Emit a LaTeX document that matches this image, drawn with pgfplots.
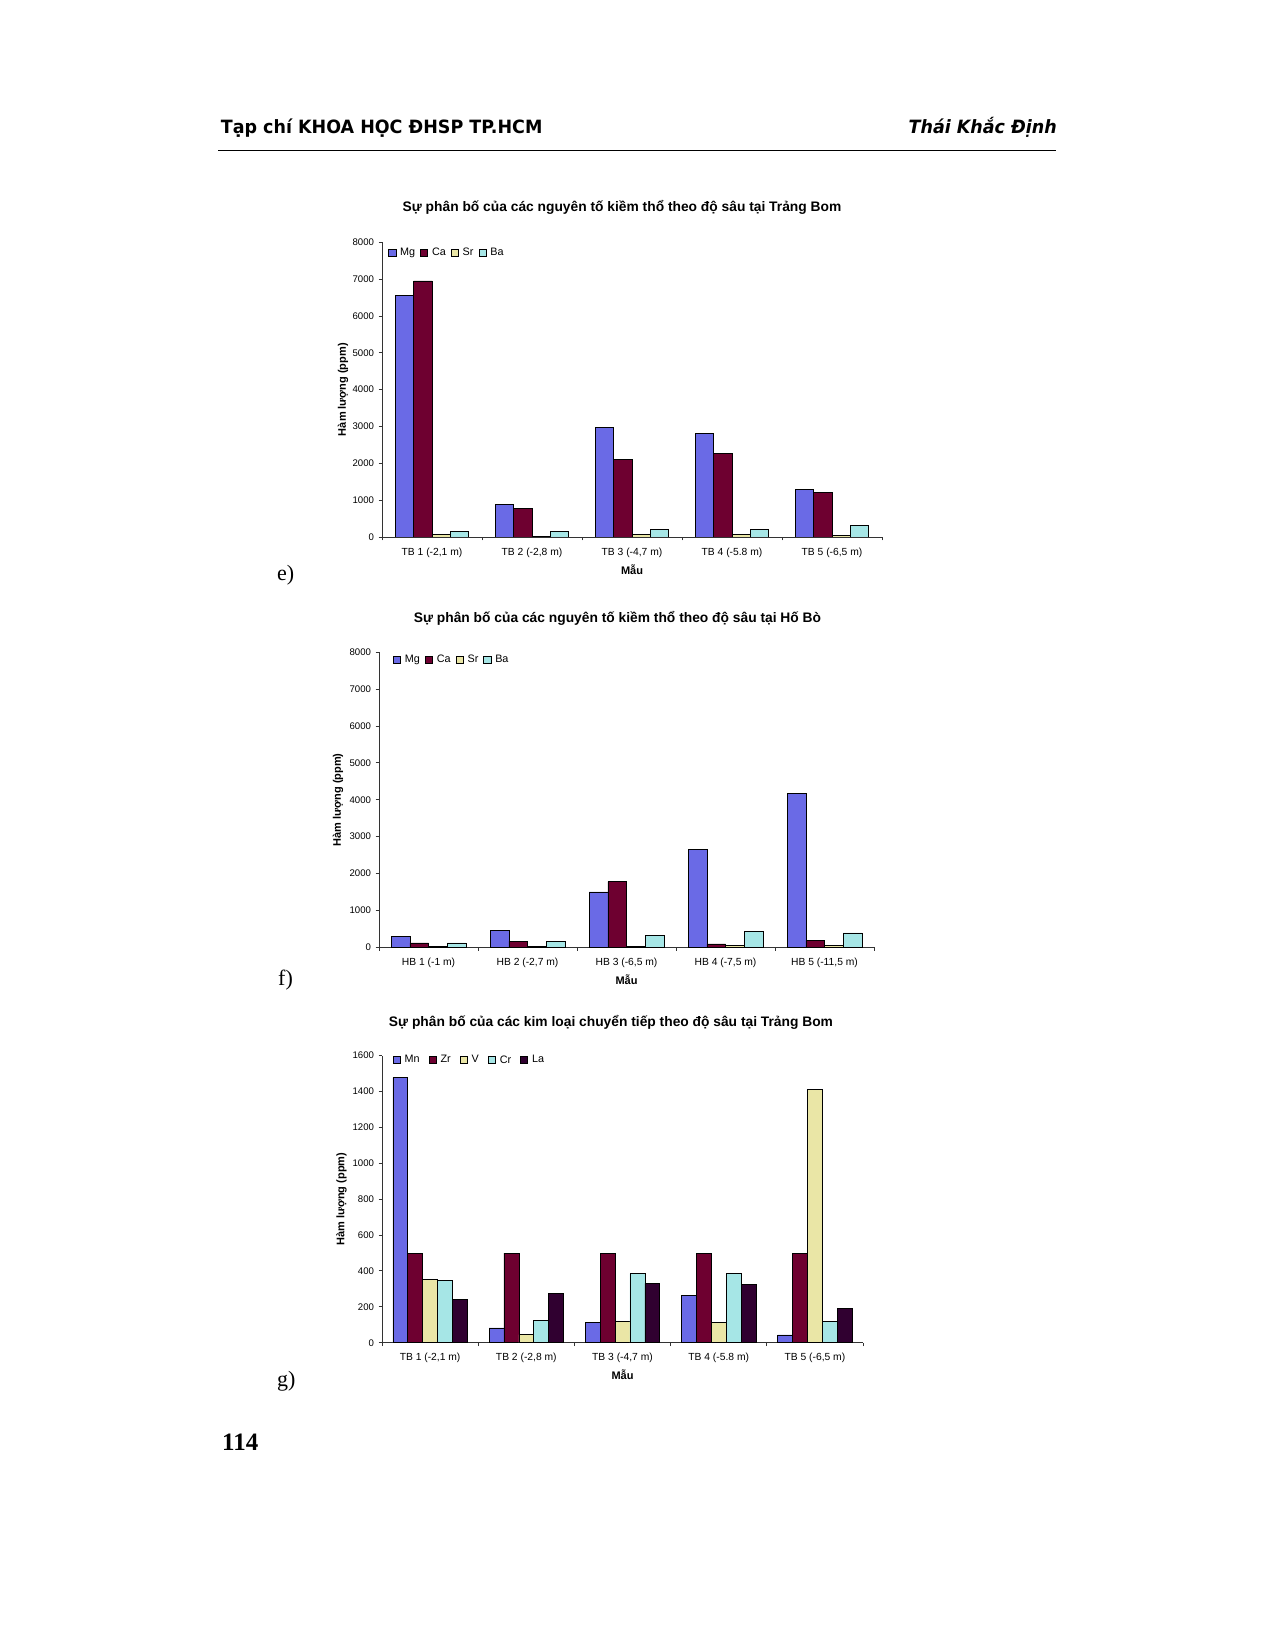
\documentclass[border=0pt]{standalone}
\usepackage{fontspec}
\setmainfont{Liberation Sans}
\newfontfamily\hdrfont[FakeStretch=0.955]{DejaVu Sans}
\newfontfamily\seriffont{Liberation Serif}
\usepackage{pgfplots}
\usepackage{pgfplotstable}
\pgfplotsset{compat=1.18}

\definecolor{cMg}{RGB}{106,106,230}
\definecolor{cCa}{RGB}{110,0,48}
\definecolor{cSr}{RGB}{234,230,166}
\definecolor{cBa}{RGB}{166,230,230}
\definecolor{cLa}{RGB}{48,0,48}

\pgfplotstableread{
x Mg Ca Sr Ba
0 6560 6950 60 150
1 880 770 20 150
2 2980 2110 60 200
3 2810 2265 60 210
4 1295 1214 45 317
}\dataE

\pgfplotstableread{
x Mg Ca Sr Ba
0 305 120 30 120
1 460 170 30 150
2 1500 1780 30 325
3 2658 90 55 425
4 4177 190 55 389
}\dataF

\pgfplotstableread{
x Mn Zr V Cr La
0 1478 500 353 346 242
1 82 500 45 126 273
2 115 500 119 385 331
3 264 500 113 388 323
4 43 500 1413 119 191
}\dataG

\pgfplotsset{
  chart/.style={
    scale only axis,
    ybar=0pt,
    axis x line*=bottom, axis y line*=left,
    axis line style={draw=black!80, line width=0.9pt},
    every tick/.style={draw=black!80, line width=0.9pt},
    tick align=outside, major tick length=3.5pt,
    xmin=-0.5, xmax=4.5,
    xtick={-0.5,0.5,1.5,2.5,3.5,4.5}, xticklabels={},
    extra x ticks={0,1,2,3,4},
    extra x tick style={major tick length=0pt},
    xticklabel style={font=\fontsize{10.3}{12}\selectfont, anchor=center, yshift=-15.5pt},
    yticklabel style={font=\fontsize{9.6}{11}\selectfont, anchor=east, xshift=-1pt},
    /pgf/number format/assume math mode=true,
    /pgf/number format/1000 sep={},
    ymin=0,
    every axis y label/.style={rotate=90, anchor=center, font=\bfseries\fontsize{11}{13}\selectfont},
    every axis x label/.style={at={(axis description cs:0.5,0)}, anchor=center, yshift=-32.5pt, font=\bfseries\fontsize{11}{13}\selectfont},
    xlabel={Mẫu}, ylabel={Hàm lượng (ppm)},
    legend style={draw=none, fill=none, inner sep=0pt, anchor=west, legend columns=-1,
      font=\fontsize{10.8}{12}\selectfont,
      /tikz/every even column/.append style={column sep=3pt}},
    legend image code/.code={\draw[#1, line width=0.6pt] (0pt,-3.6pt) rectangle (7.3pt,3.6pt); \path (9.3pt,0pt);},
    every axis plot/.append style={draw=black, line width=0.6pt},
  }
}

\begin{document}
\begin{tikzpicture}
\path[use as bounding box, fill=white] (0pt,0pt) rectangle (1274pt,1649pt);

% header
\node[anchor=base west, inner sep=0pt] at (220.7pt,1515.7pt) {\hdrfont\bfseries\fontsize{18.3}{20}\selectfont Tạp chí KHOA HỌC ĐHSP TP.HCM};
\node[anchor=base east, inner sep=0pt] at (1057pt,1515.7pt) {\hdrfont\bfseries\itshape\fontsize{18.3}{20}\selectfont Thái Khắc Định};
\draw[line width=1pt] (218pt,1498.3pt) -- (1056pt,1498.3pt);

% titles
\node[anchor=center, inner sep=0pt] at (622pt,1442pt) {\bfseries\fontsize{13.8}{15}\selectfont Sự phân bố của các nguyên tố kiềm thổ theo độ sâu tại Trảng Bom};
\node[anchor=center, inner sep=0pt] at (617.5pt,1031pt) {\bfseries\fontsize{13.8}{15}\selectfont Sự phân bố của các nguyên tố kiềm thổ theo độ sâu tại Hố Bò};
\node[anchor=center, inner sep=0pt] at (611pt,627pt) {\bfseries\fontsize{13.8}{15}\selectfont Sự phân bố của các kim loại chuyển tiếp theo độ sâu tại Trảng Bom};

% sub labels
\node[anchor=base west, inner sep=0pt] at (277pt,1068pt) {\seriffont\fontsize{22}{24}\selectfont e)};
\node[anchor=base west, inner sep=0pt] at (278pt,663pt) {\seriffont\fontsize{22}{24}\selectfont f)};
\node[anchor=base west, inner sep=0pt] at (277pt,262pt) {\seriffont\fontsize{22}{24}\selectfont g)};
\node[anchor=base west, inner sep=0pt] at (222pt,198pt) {\seriffont\bfseries\fontsize{25}{28}\selectfont 114};

% chart e
\begin{axis}[chart, at={(382pt,1112pt)}, anchor=south west,
  width=500pt, height=294.7pt, ymax=8000, ytick={0,1000,...,8000},
  bar width=18.3pt,
  extra x tick labels={{TB 1 (-2,1 m)},{TB 2 (-2,8 m)},{TB 3 (-4,7 m)},{TB 4 (-5.8 m)},{TB 5 (-6,5 m)}},
  ylabel style={at={(axis description cs:-0.078,0.5)}},
  legend style={at={(axis description cs:0.012,0.964)}}]
\addplot[fill=cMg] table[x=x,y=Mg]{\dataE};
\addplot[fill=cCa] table[x=x,y=Ca]{\dataE};
\addplot[fill=cSr] table[x=x,y=Sr]{\dataE};
\addplot[fill=cBa] table[x=x,y=Ba]{\dataE};
\legend{Mg,Ca,Sr,Ba}
\end{axis}

% chart f
\begin{axis}[chart, at={(379pt,701.7pt)}, anchor=south west,
  width=495pt, height=295pt, ymax=8000, ytick={0,1000,...,8000},
  bar width=18.7pt,
  extra x tick labels={{HB 1 (-1 m)},{HB 2 (-2,7 m)},{HB 3 (-6,5 m)},{HB 4 (-7,5 m)},{HB 5 (-11,5 m)}},
  ylabel style={at={(axis description cs:-0.083,0.5)}},
  legend style={at={(axis description cs:0.028,0.974)}}]
\addplot[fill=cMg] table[x=x,y=Mg]{\dataF};
\addplot[fill=cCa] table[x=x,y=Ca]{\dataF};
\addplot[fill=cSr] table[x=x,y=Sr]{\dataF};
\addplot[fill=cBa] table[x=x,y=Ba]{\dataF};
\legend{Mg,Ca,Sr,Ba}
\end{axis}

% chart g
\begin{axis}[chart, at={(382pt,306.3pt)}, anchor=south west,
  width=481pt, height=287pt, ymax=1600, ytick={0,200,...,1600},
  bar width=14.9pt,
  extra x tick labels={{TB 1 (-2,1 m)},{TB 2 (-2,8 m)},{TB 3 (-4,7 m)},{TB 4 (-5.8 m)},{TB 5 (-6,5 m)}},
  ylabel style={at={(axis description cs:-0.084,0.5)}},
  legend style={at={(axis description cs:0.022,0.985)}, /tikz/every even column/.append style={column sep=7pt}}]
\addplot[fill=cMg] table[x=x,y=Mn]{\dataG};
\addplot[fill=cCa] table[x=x,y=Zr]{\dataG};
\addplot[fill=cSr] table[x=x,y=V]{\dataG};
\addplot[fill=cBa] table[x=x,y=Cr]{\dataG};
\addplot[fill=cLa] table[x=x,y=La]{\dataG};
\legend{Mn,Zr,V,Cr,La}
\end{axis}
\end{tikzpicture}
\end{document}
